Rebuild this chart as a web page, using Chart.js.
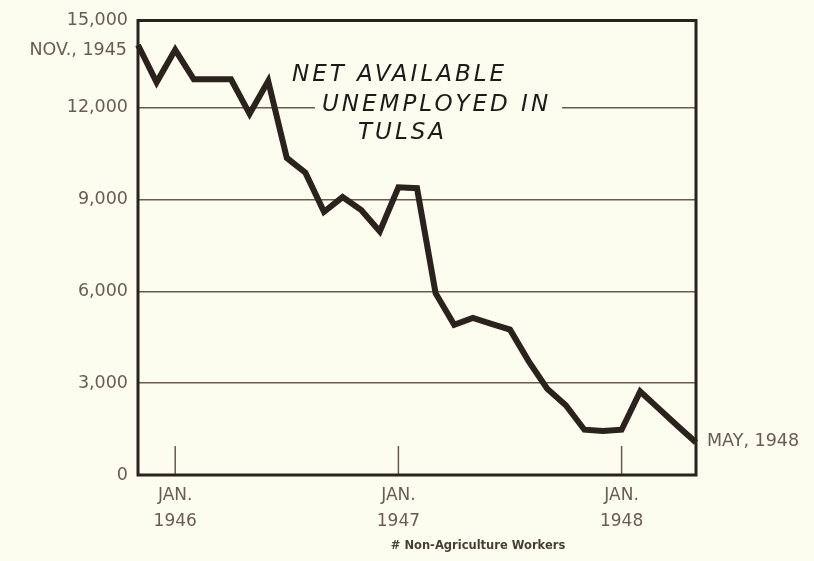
<!DOCTYPE html>
<html>
<head>
<meta charset="utf-8">
<script src="https://cdn.jsdelivr.net/npm/chart.js@4.4.1/dist/chart.umd.min.js"></script>
<style>
  html, body { margin: 0; padding: 0; background: #fcfcef; }
  #wrap { width: 814px; height: 561px; position: relative; }
</style>
</head>
<body>
<div id="wrap"><canvas id="chart"></canvas></div>
<script>
// monthly points, Nov 1945 .. May 1948
const months = [
    'NOV 1945', 'DEC 1945',
    'JAN 1946', 'FEB 1946', 'MAR 1946', 'APR 1946', 'MAY 1946', 'JUN 1946',
    'JUL 1946', 'AUG 1946', 'SEP 1946', 'OCT 1946', 'NOV 1946', 'DEC 1946',
    'JAN 1947', 'FEB 1947', 'MAR 1947', 'APR 1947', 'MAY 1947', 'JUN 1947',
    'JUL 1947', 'AUG 1947', 'SEP 1947', 'OCT 1947', 'NOV 1947', 'DEC 1947',
    'JAN 1948', 'FEB 1948', 'MAR 1948', 'APR 1948', 'MAY 1948',
]
const unemployed = [
    14050, 12830,
    13890, 12930, 12930, 12930, 11800, 12870,
    10360, 9880, 8600, 9080, 8660, 7960,
    9400, 9370, 5940, 4910, 5130, 4940,
    4750, 3720, 2820, 2280, 1480, 1440,
    1480, 2730, 2170, 1610, 1060,
]
const yTickValues = [0, 3000, 6000, 9000, 12000]
const yTopValue = 14850
const yTopLabel = '15,000'
const titleLines = ['NET AVAILABLE', 'UNEMPLOYED IN', 'TULSA']
const startLabel = 'NOV., 1945'
const endLabel = 'MAY, 1948'
const footnote = '# Non-Agriculture Workers'

const BG = '#fcfcef'
const INK = '#2b211d'
const LABEL = '#6b5b52'
const GRID = '#6a5a4e'

const decorations = {
    id: 'decorations',
    beforeDatasetsDraw(chart) {
        const { ctx, chartArea: a } = chart
        const x = chart.scales.x
        ctx.save()
        // short inner ticks at each January
        ctx.strokeStyle = GRID
        ctx.lineWidth = 1.5
        months.forEach((m, i) => {
            if (!m.startsWith('JAN')) return
            const px = x.getPixelForValue(i)
            ctx.beginPath()
            ctx.moveTo(px, a.bottom)
            ctx.lineTo(px, a.bottom - 29)
            ctx.stroke()
        })
        // title, breaking the 12,000 grid line
        ctx.fillStyle = BG
        ctx.fillRect(a.left + 177, a.top + 82, 247, 14)
        ctx.fillStyle = '#1e1a18'
        ctx.font = 'italic 23px "DejaVu Sans"'
        ctx.letterSpacing = '3px'
        ctx.textBaseline = 'alphabetic'
        ctx.textAlign = 'left'
        ctx.fillText(titleLines[0], a.left + 154, a.top + 60)
        ctx.fillText(titleLines[1], a.left + 184, a.top + 90)
        ctx.fillText(titleLines[2], a.left + 220, a.top + 118)
        ctx.restore()
    },
    afterDatasetsDraw(chart) {
        const { ctx, chartArea: a } = chart
        const pts = chart.getDatasetMeta(0).data
        ctx.save()
        // frame
        ctx.strokeStyle = INK
        ctx.lineWidth = 3
        ctx.strokeRect(a.left, a.top, a.right - a.left, a.bottom - a.top)
        // end labels
        ctx.fillStyle = LABEL
        ctx.font = '17.5px "DejaVu Sans"'
        ctx.textBaseline = 'middle'
        ctx.textAlign = 'right'
        ctx.fillText(startLabel, a.left - 11, pts[0].y + 5)
        ctx.textAlign = 'left'
        ctx.fillText(endLabel, a.right + 11, pts[pts.length - 1].y - 1)
        // footnote
        ctx.fillStyle = '#4a3d36'
        ctx.font = 'bold 11.5px "DejaVu Sans"'
        ctx.textAlign = 'center'
        ctx.fillText(footnote, 478, chart.height - 15)
        ctx.restore()
    },
}

new Chart(document.getElementById('chart'), {
    type: 'line',
    data: {
        labels: months,
        datasets: [
            {
                label: 'Net available unemployed',
                data: unemployed,
                borderColor: INK,
                borderWidth: 6,
                borderJoinStyle: 'miter',
                pointRadius: 0,
                tension: 0,
                fill: false,
            },
        ],
    },
    options: {
        responsive: true,
        maintainAspectRatio: false,
        animation: false,
        devicePixelRatio: 1,
        layout: { padding: { top: 12, right: 118, left: 0, bottom: 0 } },
        plugins: { legend: { display: false }, tooltip: { enabled: false } },
        scales: {
            x: {
                offset: false,
                grid: { display: false, drawTicks: false },
                border: { display: false },
                ticks: {
                    autoSkip: false,
                    maxRotation: 0,
                    padding: 8,
                    color: LABEL,
                    font: { family: 'DejaVu Sans', size: 17, lineHeight: 1.5 },
                    callback: (v, i) => {
                        const m = months[i]
                        return m.startsWith('JAN') ? ['JAN.', m.slice(4)] : ''
                    },
                },
                afterFit: (s) => { s.height = 86 },
            },
            y: {
                min: 0,
                max: yTopValue,
                afterBuildTicks: (s) => {
                    s.ticks = yTickValues.concat([yTopValue]).map((v) => ({ value: v }))
                },
                grid: { color: GRID, lineWidth: 1.5, drawTicks: false },
                border: { display: false },
                ticks: {
                    padding: 10,
                    color: LABEL,
                    font: { family: 'DejaVu Sans', size: 17.5 },
                    callback: (v) => (v === yTopValue ? yTopLabel : v.toLocaleString('en-US')),
                },
                afterFit: (s) => { s.width = 138 },
            },
        },
    },
    plugins: [decorations],
})
</script>
</body>
</html>
